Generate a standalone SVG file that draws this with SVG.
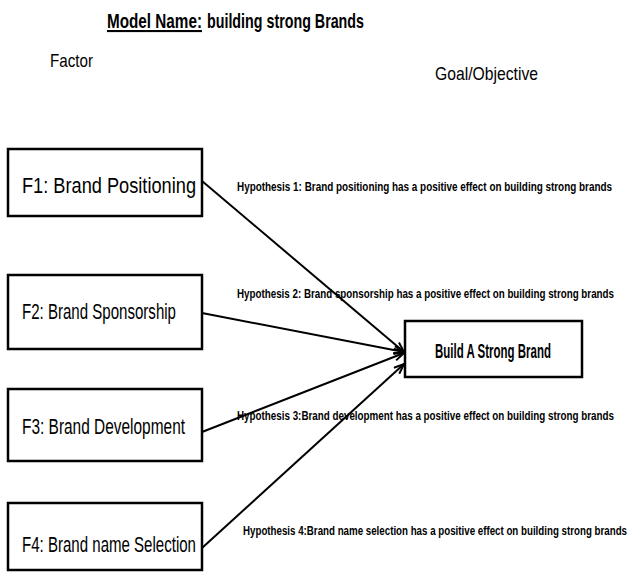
<svg xmlns="http://www.w3.org/2000/svg" width="631" height="572" viewBox="0 0 631 572">
<defs>
<style>
.t{font-family:"Liberation Sans Narrow","Liberation Sans",Arial,sans-serif;fill:#000}
.box{fill:#fff;stroke:#000;stroke-width:2.5}
.lbl{font-size:22px}
.hyp{font-size:12.5px;font-weight:bold}
.con{stroke:#000;stroke-width:2;fill:none}
</style>
<marker id="ah" viewBox="0 0 12 10" refX="11" refY="5" markerWidth="12" markerHeight="10" orient="auto" markerUnits="userSpaceOnUse">
<path d="M1,1 L11,5 L1,9" fill="none" stroke="#000" stroke-width="2"/>
</marker>
</defs>
<rect width="631" height="572" fill="#fff"/>
<g id="title">
<text class="t" x="107" y="28" font-size="21" font-weight="bold" text-decoration="underline" textLength="95" lengthAdjust="spacingAndGlyphs">Model Name:</text>
<text class="t" x="207" y="28" font-size="21" font-weight="bold" textLength="157" lengthAdjust="spacingAndGlyphs">building strong Brands</text>
</g>
<g id="factor-heading"><text class="t" x="50" y="67" font-size="19" textLength="43" lengthAdjust="spacingAndGlyphs">Factor</text></g>
<g id="goal-heading"><text class="t" x="435" y="80" font-size="19" textLength="103" lengthAdjust="spacingAndGlyphs">Goal/Objective</text></g>
<g id="connectors">
<line class="con" x1="202" y1="181" x2="404" y2="352" marker-end="url(#ah)"/>
<line class="con" x1="202" y1="313" x2="404" y2="352" marker-end="url(#ah)"/>
<line class="con" x1="202" y1="432" x2="404" y2="353" marker-end="url(#ah)"/>
<line class="con" x1="202" y1="548" x2="404" y2="364" marker-end="url(#ah)"/>
</g>
<g id="f1">
<rect class="box" x="8" y="149" width="194" height="67"/>
<text class="t lbl" x="22" y="193" textLength="174" lengthAdjust="spacingAndGlyphs">F1: Brand Positioning</text>
</g>
<g id="f2">
<rect class="box" x="8" y="275" width="194" height="74"/>
<text class="t lbl" x="22" y="319" textLength="154" lengthAdjust="spacingAndGlyphs">F2: Brand Sponsorship</text>
</g>
<g id="f3">
<rect class="box" x="8" y="389" width="194" height="72"/>
<text class="t lbl" x="22" y="434" textLength="163" lengthAdjust="spacingAndGlyphs">F3: Brand Development</text>
</g>
<g id="f4">
<rect class="box" x="8" y="503" width="194" height="67"/>
<text class="t lbl" x="22" y="552" textLength="174" lengthAdjust="spacingAndGlyphs">F4: Brand name Selection</text>
</g>
<g id="goal">
<rect class="box" x="405" y="321" width="177" height="56"/>
<text class="t" x="493" y="358" font-size="21" font-weight="bold" text-anchor="middle" textLength="116" lengthAdjust="spacingAndGlyphs">Build A Strong Brand</text>
</g>
<g id="h1"><text class="t hyp" x="237" y="191" textLength="375" lengthAdjust="spacingAndGlyphs">Hypothesis 1: Brand positioning has a positive effect  on building strong  brands</text></g>
<g id="h2"><text class="t hyp" x="237" y="298" textLength="377" lengthAdjust="spacingAndGlyphs">Hypothesis 2:  Brand sponsorship has a positive effect  on building strong brands</text></g>
<g id="h3"><text class="t hyp" x="237" y="420" textLength="377" lengthAdjust="spacingAndGlyphs">Hypothesis 3:Brand development has a positive effect  on building strong brands</text></g>
<g id="h4"><text class="t hyp" x="243" y="535" textLength="384" lengthAdjust="spacingAndGlyphs">Hypothesis 4:Brand name selection has a positive effect  on building strong brands</text></g>
</svg>
